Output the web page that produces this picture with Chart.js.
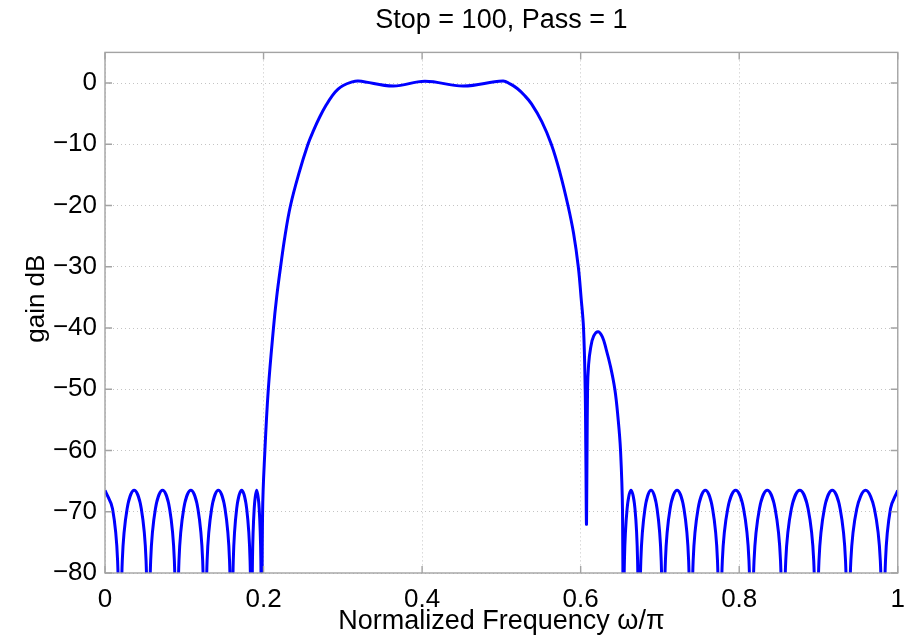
<!DOCTYPE html>
<html>
<head>
<meta charset="utf-8">
<script src="https://cdn.jsdelivr.net/npm/chart.js@4"></script>
<style>
  html, body { margin: 0; padding: 0; background: #fff; }
  #wrap { width: 916px; height: 636px; position: relative; }
</style>
</head>
<body>
<div id="wrap"><canvas id="chart"></canvas></div>
<script>
  // stopband below the passband (lobes peak near -66.5 dB, nulls fall off the axis)
  const leftStopFreq = [
    0, 0.0095, 0.0159, 0.0189,
    0.0218, 0.0279, 0.0368, 0.0458, 0.0518, 0.0547,
    0.0576, 0.0636, 0.0726, 0.0815, 0.0875, 0.0904,
    0.0933, 0.0993, 0.1083, 0.1172, 0.1232, 0.1261,
    0.1288, 0.1345, 0.1430, 0.1514, 0.1571, 0.1598,
    0.1618, 0.1661, 0.1724, 0.1787, 0.1830, 0.1850,
    0.1860, 0.1882, 0.1913, 0.1945, 0.1966, 0.1976
  ];
  const leftStopGain = [
    -66.5, -69.5, -78, -100,
    -78, -69.5, -66.5, -69.5, -78, -100,
    -78, -69.5, -66.5, -69.5, -78, -100,
    -78, -69.5, -66.5, -69.5, -78, -100,
    -78, -69.5, -66.5, -69.5, -78, -100,
    -78, -69.5, -66.5, -69.5, -78, -100,
    -78, -69.5, -66.5, -69.5, -78, -100
  ];

  // passband and transition, including the -40 dB side lobe
  const passFreq = [
    0.1988, 0.2017, 0.2060, 0.2125, 0.2165, 0.2215, 0.2270, 0.2340, 0.2445, 0.2560,
    0.2635, 0.2710, 0.2790, 0.2870, 0.2940, 0.3005, 0.3100, 0.3195, 0.3636, 0.4035,
    0.4520, 0.5020, 0.5110, 0.5200, 0.5290, 0.5380, 0.5510, 0.5630, 0.5740, 0.5840,
    0.5910, 0.5970, 0.6005, 0.6036, 0.6057, 0.6065, 0.6074, 0.6087, 0.6100, 0.6125,
    0.6165, 0.6222, 0.6275, 0.6318, 0.6375, 0.6431, 0.6470, 0.6503, 0.6528, 0.6536
  ];
  const passGain = [
    -70, -60, -50, -40, -35, -30, -25, -20, -14.8, -10,
    -7.6, -5.5, -3.6, -2.0, -1.0, -0.4, 0.1, 0.33, -0.5, 0.3,
    -0.5, 0.33, -0.15, -0.9, -2.0, -3.4, -6.3, -10, -14.7, -20,
    -24.5, -30, -35, -40, -50, -60, -71.9, -50, -46, -43.3,
    -41.3, -40.6, -41.5, -43.3, -46.2, -50, -54.5, -60, -70, -100
  ];

  // stopband above the passband
  const rightStopFreq = [
    0.6552, 0.6586, 0.6635, 0.6685, 0.6718, 0.6734,
    0.6759, 0.6811, 0.6888, 0.6964, 0.7016, 0.7041,
    0.7069, 0.7128, 0.7216, 0.7303, 0.7362, 0.7390,
    0.7419, 0.7481, 0.7573, 0.7664, 0.7726, 0.7755,
    0.7787, 0.7855, 0.7955, 0.8055, 0.8123, 0.8155,
    0.8187, 0.8255, 0.8354, 0.8453, 0.8521, 0.8553,
    0.8587, 0.8658, 0.8764, 0.8869, 0.8940, 0.8974,
    0.9006, 0.9074, 0.9174, 0.9273, 0.9341, 0.9373,
    0.9408, 0.9483, 0.9594, 0.9705, 0.9780, 0.9815,
    0.9845, 0.9908, 1.0
  ];
  const rightStopGain = [
    -78, -69.5, -66.5, -69.5, -78, -100,
    -78, -69.5, -66.5, -69.5, -78, -100,
    -78, -69.5, -66.5, -69.5, -78, -100,
    -78, -69.5, -66.5, -69.5, -78, -100,
    -78, -69.5, -66.5, -69.5, -78, -100,
    -78, -69.5, -66.5, -69.5, -78, -100,
    -78, -69.5, -66.5, -69.5, -78, -100,
    -78, -69.5, -66.5, -69.5, -78, -100,
    -78, -69.5, -66.5, -69.5, -78, -100,
    -78, -69.5, -66.5
  ];

  const xTicks = [0, 0.2, 0.4, 0.6, 0.8, 1];
  const yTicks = [-80, -70, -60, -50, -40, -30, -20, -10, 0];

  const FONT = "'Liberation Sans', Arial, Helvetica, sans-serif";
  const AXIS_GREY = "#a3a3a3";

  const freq = leftStopFreq.concat(passFreq, rightStopFreq);
  const gain = leftStopGain.concat(passGain, rightStopGain);
  const points = freq.map((f, i) => ({ x: f, y: gain[i] }));

  // matlab style box with inward tick marks on all four sides, plus the ylabel
  const axesBox = {
    id: "axesBox",
    afterDatasetsDraw(chart) {
      const { ctx, chartArea: a, scales: { x, y } } = chart;
      const len = 7;
      ctx.save();
      ctx.strokeStyle = AXIS_GREY;
      ctx.lineWidth = 1.4;
      ctx.strokeRect(a.left, a.top, a.right - a.left, a.bottom - a.top);
      ctx.beginPath();
      xTicks.forEach((v) => {
        const px = x.getPixelForValue(v);
        ctx.moveTo(px, a.bottom);
        ctx.lineTo(px, a.bottom - len);
        ctx.moveTo(px, a.top);
        ctx.lineTo(px, a.top + len);
      });
      yTicks.forEach((v) => {
        const py = y.getPixelForValue(v);
        ctx.moveTo(a.left, py);
        ctx.lineTo(a.left + len, py);
        ctx.moveTo(a.right, py);
        ctx.lineTo(a.right - len, py);
      });
      ctx.stroke();

      ctx.translate(37, (a.top + a.bottom) / 2 - 14);
      ctx.rotate(-Math.PI / 2);
      ctx.fillStyle = "#000";
      ctx.font = "26px " + FONT;
      ctx.textAlign = "center";
      ctx.textBaseline = "middle";
      ctx.fillText("gain dB", 0, 0);
      ctx.restore();
    }
  };

  new Chart(document.getElementById("chart"), {
    type: "line",
    data: {
      datasets: [
        {
          data: points,
          borderColor: "#0000ff",
          borderWidth: 3,
          pointRadius: 0,
          fill: false,
          tension: 0.4,
          clip: 0
        }
      ]
    },
    options: {
      responsive: true,
      maintainAspectRatio: false,
      animation: false,
      devicePixelRatio: 1,
      layout: {
        padding: { top: 0, right: 18, bottom: 0, left: 0 }
      },
      plugins: {
        legend: { display: false },
        tooltip: { enabled: false },
        title: {
          display: true,
          text: "Stop = 100, Pass = 1",
          fullSize: false,
          color: "#000",
          font: { family: FONT, size: 27, weight: "normal", lineHeight: 1.2 },
          padding: { top: 4, bottom: 16 }
        }
      },
      scales: {
        x: {
          type: "linear",
          min: 0,
          max: 1,
          afterFit: (scale) => { scale.height = 63; },
          afterBuildTicks: (scale) => { scale.ticks = xTicks.map((v) => ({ value: v })); },
          grid: { color: "#c4c4c4", lineWidth: 1, drawTicks: false },
          border: { display: false, dash: [1, 3] },
          ticks: {
            color: "#000",
            padding: 11,
            maxRotation: 0,
            font: { family: FONT, size: 26 },
            callback: (v) => String(v)
          },
          title: {
            display: true,
            text: "Normalized Frequency ω/π",
            color: "#000",
            font: { family: FONT, size: 27, lineHeight: 1.1 },
            padding: { top: 0, bottom: 0 }
          }
        },
        y: {
          type: "linear",
          min: -80,
          max: 5,
          afterFit: (scale) => { scale.width = 105; },
          afterBuildTicks: (scale) => { scale.ticks = yTicks.map((v) => ({ value: v })); },
          grid: { color: "#c4c4c4", lineWidth: 1, drawTicks: false },
          border: { display: false, dash: [1, 3] },
          ticks: {
            color: "#000",
            padding: 8,
            font: { family: FONT, size: 26 },
            callback: (v) => String(v).replace("-", "\u2212")
          }
        }
      }
    },
    plugins: [axesBox]
  });
</script>
</body>
</html>
